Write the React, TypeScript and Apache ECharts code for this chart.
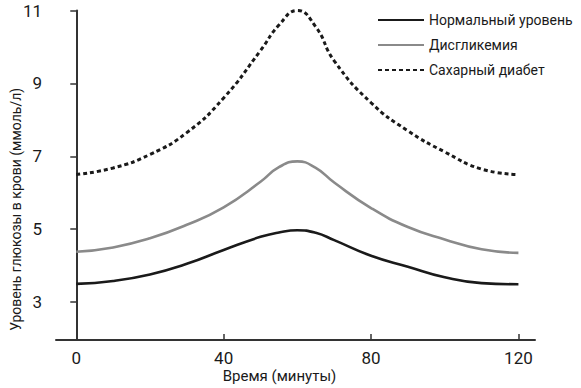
import React, { useEffect, useRef } from "react";
import * as echarts from "echarts";

const times = [0, 10, 20, 30, 40, 50, 55, 60, 65, 70, 80, 90, 100, 110, 120];
const normal = [3.5, 3.58, 3.76, 4.05, 4.43, 4.79, 4.91, 4.97, 4.9, 4.7, 4.27, 3.97, 3.68, 3.52, 3.49];
const dysglycemia = [4.38, 4.5, 4.75, 5.12, 5.6, 6.3, 6.7, 6.86, 6.68, 6.28, 5.58, 5.06, 4.72, 4.45, 4.35];
const diabetes = [6.5, 6.68, 7.05, 7.65, 8.6, 9.9, 10.6, 11.0, 10.55, 9.62, 8.47, 7.7, 7.12, 6.65, 6.5];
const seriesNames = ["Нормальный уровень", "Дисгликемия", "Сахарный диабет"];
const xTicks = [0, 40, 80, 120];
const yTicks = [3, 5, 7, 9, 11];
const xName = "Время (минуты)";
const yName = "Уровень глюкозы в крови (ммоль/л)";

const FONT = "Roboto, 'Liberation Sans', sans-serif";

export default function App() {
  const ref = useRef<HTMLDivElement>(null);
  useEffect(() => {
    if (!ref.current) return;
    const chart = echarts.init(ref.current, null, { renderer: "svg" });
    const pairs = (vals: number[]) => times.map((t, i) => [t, vals[i]]);
    chart.setOption({
      animation: false,
      backgroundColor: "#ffffff",
      textStyle: { fontFamily: FONT },
      grid: { left: 56, right: 46, top: 10.5, bottom: 48, containLabel: false, outerBoundsMode: "none" },
      legend: {
        show: true,
        orient: "vertical",
        left: 372,
        top: 8,
        itemWidth: 46,
        itemHeight: 14,
        itemGap: 11,
        itemStyle: { opacity: 0 },
        textStyle: { fontFamily: FONT, fontSize: 14, color: "#1a1a1a" },
        data: seriesNames,
      },
      xAxis: {
        type: "value",
        min: -5.5,
        max: 124.5,
        name: xName,
        nameLocation: "middle",
        nameGap: 28,
        nameMoveOverlap: false,
        nameTextStyle: { fontFamily: FONT, fontSize: 15, color: "#1a1a1a", padding: [0, 32, 0, 0] },
        axisLine: { show: true, lineStyle: { color: "#333", width: 2 } },
        axisTick: { show: true, inside: true, length: 6, customValues: xTicks, lineStyle: { color: "#333", width: 1.5 } },
        axisLabel: { customValues: xTicks, margin: 9, fontFamily: FONT, fontSize: 17, color: "#1a1a1a" },
        splitLine: { show: false },
      },
      yAxis: {
        type: "value",
        min: 1.96,
        max: 11,
        name: yName,
        nameLocation: "middle",
        nameGap: 33,
        nameRotate: 90,
        nameMoveOverlap: false,
        nameTextStyle: { fontFamily: FONT, fontSize: 14, color: "#1a1a1a", padding: [0, 68, 0, 0] },
        axisLine: { show: true, lineStyle: { color: "#333", width: 2 } },
        axisTick: { show: true, inside: false, length: 6, customValues: yTicks, lineStyle: { color: "#333", width: 1.5 } },
        axisLabel: { customValues: yTicks, margin: 14, fontFamily: FONT, fontSize: 17, color: "#1a1a1a" },
        splitLine: { show: false },
      },
      series: [
        {
          name: seriesNames[0],
          type: "line",
          data: pairs(normal),
          smooth: 0.5,
          symbol: "none",
          color: "#1a1a1a",
          lineStyle: { color: "#1a1a1a", width: 2.6 },
        },
        {
          name: seriesNames[1],
          type: "line",
          data: pairs(dysglycemia),
          smooth: 0.5,
          symbol: "none",
          color: "#8a8a8a",
          lineStyle: { color: "#8a8a8a", width: 2.6 },
        },
        {
          name: seriesNames[2],
          type: "line",
          data: pairs(diabetes),
          smooth: 0.5,
          symbol: "none",
          color: "#1a1a1a",
          lineStyle: { color: "#1a1a1a", width: 3, type: [4, 3] },
        },
      ],
    });
    return () => chart.dispose();
  }, []);
  return <div ref={ref} style={{ width: 581, height: 388, position: "absolute", left: 0, top: 0 }} />;
}
